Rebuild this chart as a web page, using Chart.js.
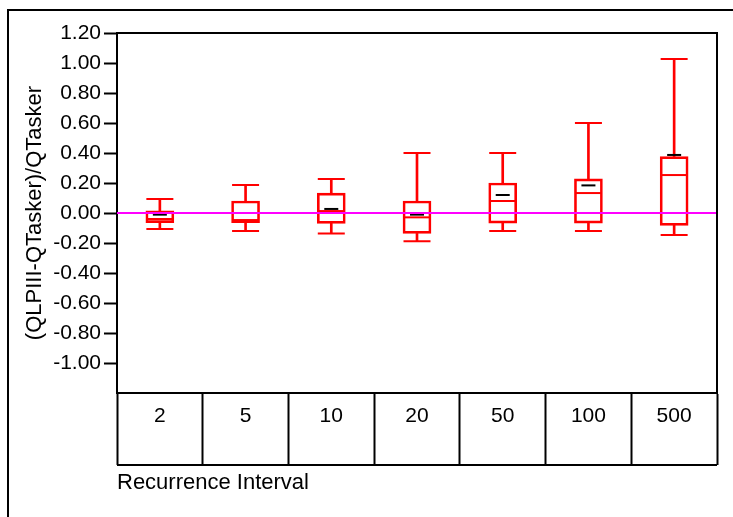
<!DOCTYPE html>
<html>
<head>
<meta charset="utf-8">
<script src="https://cdn.jsdelivr.net/npm/chart.js@4.4.0/dist/chart.umd.min.js"></script>
<style>
  html, body { margin: 0; padding: 0; background: #ffffff; }
  #wrap { width: 733px; height: 517px; }
</style>
</head>
<body>
<div id="wrap"><canvas id="boxChart" width="733" height="517"></canvas></div>
<script>
// Recurrence intervals (categories)
const intervals = ['2', '5', '10', '20', '50', '100', '500'];

// Box plot statistics
const whiskerHigh = [0.093, 0.187, 0.227, 0.40, 0.40, 0.60, 1.027];
const upperQuartile = [0.015, 0.08, 0.133, 0.08, 0.20, 0.227, 0.376];
const medians = [-0.04, -0.047, 0.013, -0.029, 0.08, 0.133, 0.253];
const lowerQuartile = [-0.064, -0.064, -0.069, -0.136, -0.067, -0.067, -0.082];
const whiskerLow = [-0.107, -0.12, -0.136, -0.189, -0.12, -0.12, -0.147];
const means = [-0.011, 0.0, 0.027, -0.011, 0.12, 0.184, 0.387];

// y axis range / ticks
const yMin = -1.2;
const yMax = 1.2;
const yStep = 0.2;
const refLineValue = 0;

const RED = '#ff0000';
const INK = '#000000';
const FONT = '"Liberation Sans", Arial, sans-serif';

const boxes = intervals.map((_, i) => [lowerQuartile[i], upperQuartile[i]]);
const upperStems = intervals.map((_, i) => [upperQuartile[i], whiskerHigh[i]]);
const lowerStems = intervals.map((_, i) => [whiskerLow[i], lowerQuartile[i]]);

const TABLE_ROW = 72;

const framePlugin = {
    id: 'frames',
    beforeDraw(chart) {
        const c = chart.ctx;
        c.save();
        c.strokeStyle = INK;
        c.lineWidth = 2;
        c.beginPath();
        c.moveTo(8, chart.height);
        c.lineTo(8, 10);
        c.lineTo(chart.width, 10);
        c.stroke();
        c.restore();
    },
    afterDatasetsDraw(chart) {
        const c = chart.ctx;
        const area = chart.chartArea;
        const yScale = chart.scales.y;
        const xScale = chart.scales.x;
        // zero reference line
        const y0 = Math.round(yScale.getPixelForValue(refLineValue));
        c.save();
        c.strokeStyle = '#ff00ff';
        c.lineWidth = 2;
        c.beginPath();
        c.moveTo(area.left, y0);
        c.lineTo(area.right, y0);
        c.stroke();
        // top / right plot border and bottom of the label table
        c.strokeStyle = INK;
        c.lineWidth = 2;
        c.beginPath();
        c.moveTo(area.left, area.top);
        c.lineTo(area.right, area.top);
        c.lineTo(area.right, area.bottom);
        c.stroke();
        c.beginPath();
        c.moveTo(xScale.left, xScale.top + TABLE_ROW);
        c.lineTo(xScale.right, xScale.top + TABLE_ROW);
        c.stroke();
        c.restore();
    }
};

const capPoint = (data, radius, color, order) => ({
    type: 'line',
    data: data,
    showLine: false,
    pointStyle: 'line',
    pointRadius: radius,
    pointHoverRadius: radius,
    pointBorderWidth: 2,
    pointBorderColor: color,
    pointBackgroundColor: color,
    order: order
});

new Chart(document.getElementById('boxChart'), {
    data: {
        labels: intervals,
        datasets: [
            {
                type: 'bar',
                data: boxes,
                grouped: false,
                barThickness: 28,
                backgroundColor: 'rgba(0,0,0,0)',
                borderColor: RED,
                borderWidth: 2,
                borderSkipped: false,
                order: 5
            },
            {
                type: 'bar',
                data: upperStems,
                grouped: false,
                barThickness: 2,
                backgroundColor: RED,
                borderWidth: 0,
                order: 6
            },
            {
                type: 'bar',
                data: lowerStems,
                grouped: false,
                barThickness: 2,
                backgroundColor: RED,
                borderWidth: 0,
                order: 7
            },
            capPoint(whiskerHigh, 13.5, RED, 4),
            capPoint(whiskerLow, 13.5, RED, 3),
            capPoint(medians, 13, RED, 2),
            capPoint(means, 7, INK, 1)
        ]
    },
    options: {
        responsive: false,
        devicePixelRatio: 1,
        animation: false,
        events: [],
        layout: { padding: { left: 14, top: 33, right: 16, bottom: 0 } },
        plugins: {
            legend: { display: false },
            tooltip: { enabled: false }
        },
        scales: {
            x: {
                type: 'category',
                offset: true,
                border: { display: true, color: INK, width: 2 },
                grid: {
                    offset: true,
                    drawOnChartArea: false,
                    drawTicks: true,
                    tickLength: TABLE_ROW,
                    tickWidth: 2,
                    tickColor: INK,
                    color: INK
                },
                ticks: {
                    color: INK,
                    font: { family: FONT, size: 21 },
                    padding: -61,
                    maxRotation: 0,
                    autoSkip: false
                },
                title: {
                    display: true,
                    text: 'Recurrence Interval',
                    align: 'start',
                    color: INK,
                    font: { family: FONT, size: 22 },
                    padding: { top: 0, bottom: 20.8 }
                },
                afterFit(scale) { scale.height = 124; }
            },
            y: {
                type: 'linear',
                min: yMin,
                max: yMax,
                border: { display: true, color: INK, width: 2 },
                grid: {
                    drawOnChartArea: false,
                    drawTicks: true,
                    tickLength: 13,
                    tickWidth: 2,
                    tickColor: (ctx) => (ctx.tick && ctx.tick.value < yMin + 0.01) ? 'rgba(0,0,0,0)' : INK
                },
                ticks: {
                    stepSize: yStep,
                    autoSkip: false,
                    color: INK,
                    padding: 3,
                    font: { family: FONT, size: 21 },
                    callback: (v) => (v < yMin + 0.01) ? '' : Number(v).toFixed(2)
                },
                title: {
                    display: true,
                    text: '(QLPIII-QTasker)/QTasker',
                    color: INK,
                    font: { family: FONT, size: 22 },
                    padding: { top: 8, bottom: 0 }
                },
                afterFit(scale) { scale.width = 103; }
            }
        }
    },
    plugins: [framePlugin]
});
</script>
</body>
</html>
